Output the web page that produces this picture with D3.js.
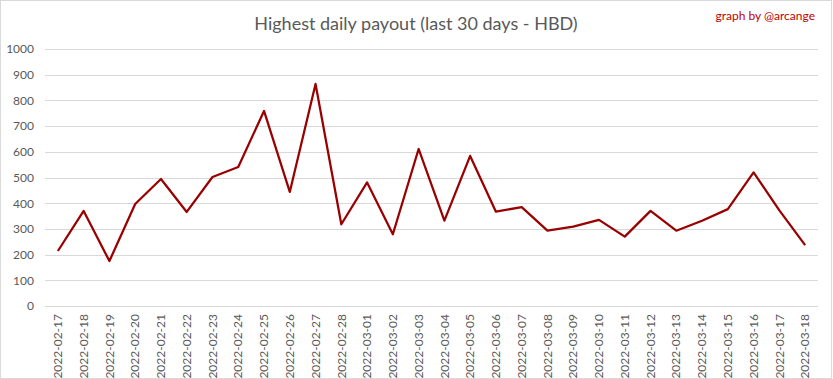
<!DOCTYPE html>
<html>
<head>
<meta charset="utf-8">
<script src="https://cdn.jsdelivr.net/npm/d3@7"></script>
<style>
  body { margin: 0; background: #fff; }
  text { font-family: Lato, "Open Sans", sans-serif; }
</style>
</head>
<body>
<div class="chartDiv"></div>
<script>
// Highest daily payout, last 30 days (HBD)

let dates = ["2022-02-17", "2022-02-18", "2022-02-19", "2022-02-20", "2022-02-21", "2022-02-22",
  "2022-02-23", "2022-02-24", "2022-02-25", "2022-02-26", "2022-02-27", "2022-02-28",
  "2022-03-01", "2022-03-02", "2022-03-03", "2022-03-04", "2022-03-05", "2022-03-06",
  "2022-03-07", "2022-03-08", "2022-03-09", "2022-03-10", "2022-03-11", "2022-03-12",
  "2022-03-13", "2022-03-14", "2022-03-15", "2022-03-16", "2022-03-17", "2022-03-18"];

let payout = [214, 370, 175, 397, 494, 366, 502, 541, 759, 444, 864, 318,
  481, 279, 611, 332, 584, 367, 385, 293, 309, 335, 270, 370,
  293, 332, 377, 520, 372, 237];

let yTicks = [0, 100, 200, 300, 400, 500, 600, 700, 800, 900, 1000];

let svgWidth = 833;
let svgHeight = 379;

let margin = { top: 49, bottom: 73, right: 15, left: 45 };
let graphWidth = svgWidth - margin.left - margin.right;
let graphHeight = svgHeight - margin.top - margin.bottom;

let svg = d3.select('.chartDiv')
  .append('svg')
  .attr('width', svgWidth)
  .attr('height', svgHeight);

// outer frame
svg.append('rect')
  .attr('x', 0.5).attr('y', 0.5)
  .attr('width', svgWidth - 2).attr('height', svgHeight - 1)
  .attr('fill', '#fff')
  .attr('stroke', '#d9d9d9');

let chartGroup = svg.append('g')
  .attr('transform', `translate(${margin.left}, ${margin.top})`);

let xScale = d3.scaleBand()
  .domain(dates)
  .range([0, graphWidth]);

let yScale = d3.scaleLinear()
  .domain([0, 1000])
  .range([graphHeight, 0]);

// gridlines
chartGroup.append('g')
  .selectAll('line')
  .data(yTicks)
  .enter()
  .append('line')
  .attr('x1', 0)
  .attr('x2', graphWidth)
  .attr('y1', d => Math.round(yScale(d)) + 0.5)
  .attr('y2', d => Math.round(yScale(d)) + 0.5)
  .attr('stroke', '#d9d9d9')
  .attr('stroke-width', 1);

// y axis labels
let leftaxis = d3.axisLeft(yScale).tickValues(yTicks).tickFormat(d3.format('d')).tickSize(0).tickPadding(11);
chartGroup.append('g')
  .classed('axis', true)
  .call(leftaxis)
  .call(g => g.select('.domain').remove())
  .selectAll('text')
  .attr('fill', '#595959')
  .style('font-size', '12px');

// x axis labels
let bottomaxis = d3.axisBottom(xScale).tickSize(0).tickPadding(0);
chartGroup.append('g')
  .classed('axis', true)
  .attr('transform', `translate(0, ${graphHeight})`)
  .call(bottomaxis)
  .call(g => g.select('.domain').remove())
  .selectAll('text')
  .attr('fill', '#595959')
  .style('font-size', '12px')
  .attr('text-anchor', 'end')
  .attr('dy', '0.35em')
  .attr('transform', 'translate(0, 8) rotate(-90)')
  .attr('x', 0)
  .attr('y', 0);

// line
let line = d3.line()
  .x((d, i) => xScale(dates[i]) + xScale.bandwidth() / 2)
  .y(d => yScale(d));

chartGroup.append('path')
  .datum(payout)
  .attr('d', line)
  .attr('fill', 'none')
  .attr('stroke', '#990000')
  .attr('stroke-width', 2.25)
  .attr('stroke-linejoin', 'round');

// title
svg.append('text')
  .attr('x', 416)
  .attr('y', 30)
  .attr('text-anchor', 'middle')
  .attr('fill', '#595959')
  .style('font-size', '18px')
  .text('Highest daily payout (last 30 days - HBD)');

svg.append('text')
  .attr('x', 815)
  .attr('y', 20)
  .attr('text-anchor', 'end')
  .attr('fill', '#c00000')
  .style('font-size', '12px')
  .text('graph by @arcange');
</script>
</body>
</html>
